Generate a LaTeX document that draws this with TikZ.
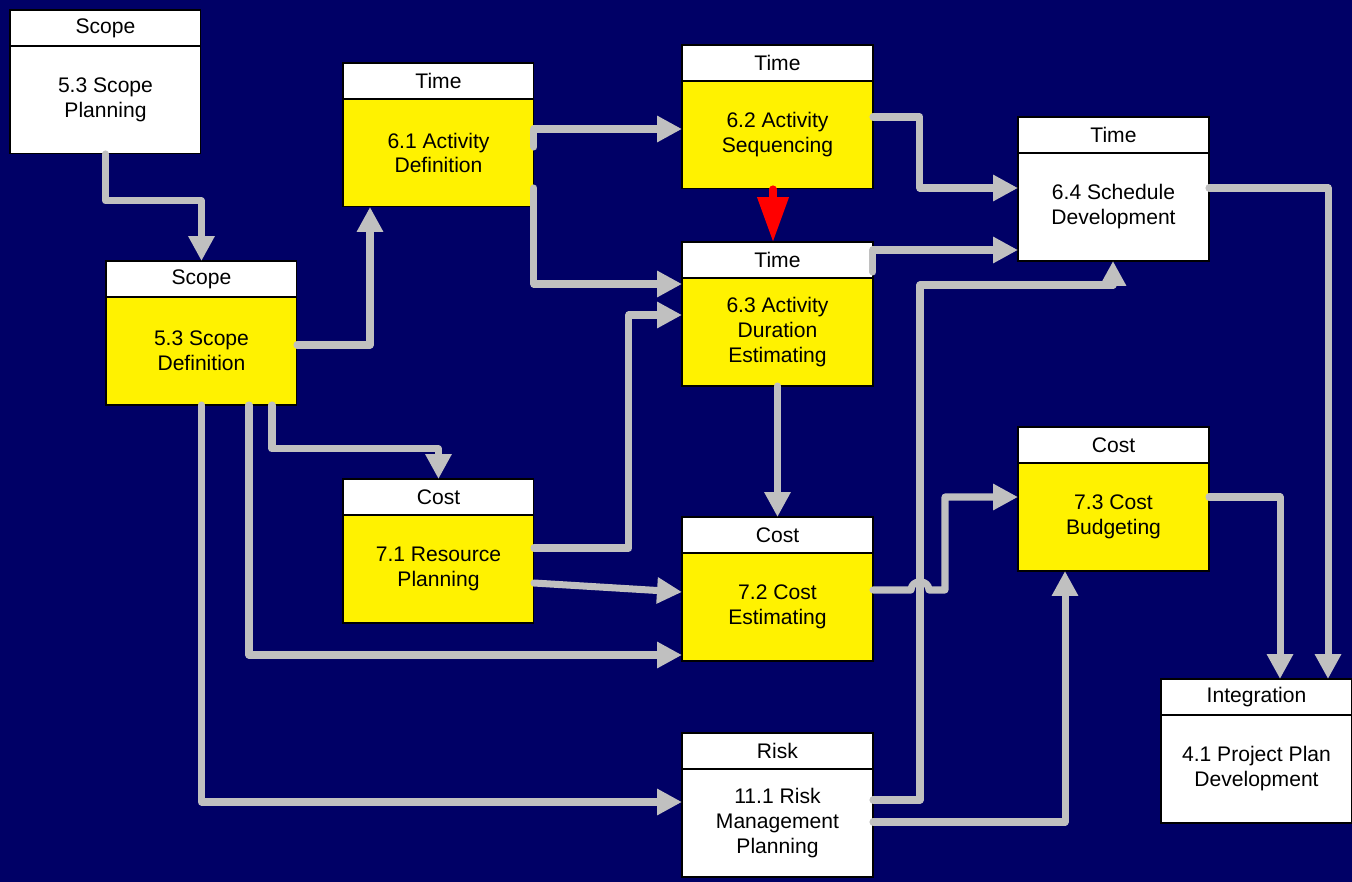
\documentclass[tikz,border=0pt]{standalone}
\usepackage{xcolor}
\usepackage{fontspec}
\setmainfont{Liberation Sans}
\usepackage{tikz}
\usetikzlibrary{arrows.meta, positioning, calc}

\definecolor{bgnavy}{RGB}{0,0,102}
\definecolor{linegray}{RGB}{192,192,192}

\begin{document}
\begin{tikzpicture}[x=0.02cm, y=-0.02cm,
  hdr/.style={draw=black, line width=0.6pt, fill=white, minimum width=3.82cm,
    minimum height=0.72cm, inner sep=0pt, outer sep=0pt, font=\fontsize{12}{14.2}\selectfont},
  bodybox/.style={hdr, minimum height=2.16cm, align=center},
  conn/.style={draw=linegray, line width=4pt, line cap=round, line join=round,
    -{Triangle[length=0.5cm,width=0.5cm]}}]

% Background
\useasboundingbox (0,0) rectangle (1352,882);
\fill[bgnavy] (0,0) rectangle (1352,882);

% Process boxes: header on top, body below
\foreach \name/\px/\py/\hd/\txt/\col in {
    spl/10/10/Scope/{5.3 Scope\\Planning}/white,
    sdf/106/261/Scope/{5.3 Scope\\Definition}/yellow,
    adf/343/63/Time/{6.1 Activity\\Definition}/yellow,
    asq/682/45/Time/{6.2 Activity\\Sequencing}/yellow,
    ade/682/242/Time/{6.3 Activity\\Duration\\Estimating}/yellow,
    sdv/1018/117/Time/{6.4 Schedule\\Development}/white,
    rpl/343/479/Cost/{7.1 Resource\\Planning}/yellow,
    cst/682/517/Cost/{7.2 Cost\\Estimating}/yellow,
    cbu/1018/427/Cost/{7.3 Cost\\Budgeting}/yellow,
    ppd/1161/679/Integration/{4.1 Project Plan\\Development}/white,
    rmp/682/733/Risk/{11.1 Risk\\Management\\Planning}/white} {
  \node[hdr, anchor=north west] (h\name) at (\px,\py) {\hd};
  \node[bodybox, fill=\col, below=0pt of h\name] (\name) {\txt};
}

% Scope links
\draw[conn] (spl.south) -- ++(0,47) -| (hsdf.north);
\draw[conn] (sdf.east |- 0,345) -| (adf.south -| 370,0);
\draw[conn] (sdf.south -| 272,0) -- ++(0,44) -| (hrpl.north);
\draw[conn] (sdf.south -| 249,0) |- (cst.west |- 0,655);
\draw[conn] (sdf.south) |- (rmp.west |- 0,802);

% Time links
\draw[conn] (adf.east |- 0,147) |- (asq.west |- 0,129);
\draw[conn] (adf.east |- 0,188) |- (ade.west |- 0,284);
\draw[red, line width=4pt, line cap=round, -{Triangle[length=0.9cm,width=0.6cm]}]
  (asq.south -| 773,0) -- (hade.north -| 773,0);
\draw[conn] (asq.east |- 0,117) -- ++(47,0) |- (sdv.west |- 0,188);
\draw[conn] (hade.east |- 0,272) |- (sdv.west |- 0,250);
\draw[conn] (ade.south) -- (hcst.north);

% Cost links
\draw[conn] (rpl.east |- 0,548) -- ++(95,0) |- (ade.west |- 0,315);
\draw[conn] (rpl.east |- 0,583) -- (cst.west |- 0,592);
\draw[conn] (cst.east |- 0,590) -- (911,590) .. controls (911,579) and (929,579) .. (929,590)
  -- (945,590) |- (cbu.west |- 0,497);

% Risk links
\draw[conn] (rmp.east |- 0,800) -| (920,285) -| (sdv.south -| 1113,0);
\draw[conn] (rmp.east |- 0,822) -| (cbu.south -| 1065,0);

% Into integration
\draw[conn] (cbu.east |- 0,497) -| (hppd.north -| 1280,0);
\draw[conn] (sdv.east |- 0,188) -| (hppd.north -| 1328,0);

\end{tikzpicture}
\end{document}
